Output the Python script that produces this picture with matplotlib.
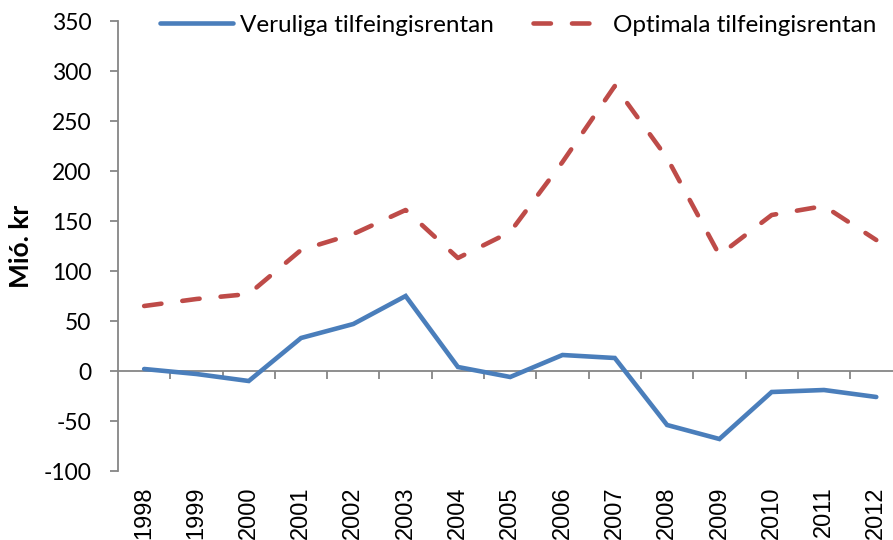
import matplotlib
matplotlib.use("Agg")
import matplotlib.pyplot as plt
import numpy as np

years = ["1998", "1999", "2000", "2001", "2002", "2003", "2004", "2005",
         "2006", "2007", "2008", "2009", "2010", "2011", "2012"]
veruliga = [2, -3, -10, 33, 47, 75, 4, -6, 16, 13, -54, -68, -21, -19, -26]
optimala = [65, 72, 77, 121, 137, 161, 113, 139, 209, 285, 213, 116, 156, 165, 131]
yticks = [-100, -50, 0, 50, 100, 150, 200, 250, 300, 350]

BLUE = "#4A7EBB"
RED = "#BE4B48"
GRAY = "#868686"

fig = plt.figure(figsize=(8.93, 5.4), dpi=100)
ax = fig.add_axes([118/893, 1-471/540, 1-118/893, (471-21)/540])

x = np.arange(len(years))
ax.plot(x, veruliga, color=BLUE, lw=3.3, solid_capstyle="round",
        solid_joinstyle="miter", label="Veruliga tilfeingisrentan")
ax.plot(x, optimala, color=RED, lw=3.3, dashes=(3.8, 4.6), dash_capstyle="round",
        label="Optimala tilfeingisrentan")

ax.set_ylim(-100, 350)
ax.set_xlim(-0.5, 14.32)
ax.set_yticks(yticks)
ax.set_yticklabels([str(v) for v in yticks], family="Lato", fontsize=16.5)

for s in ["top", "right", "bottom"]:
    ax.spines[s].set_visible(False)
ax.spines["left"].set_color(GRAY)
ax.spines["left"].set_linewidth(1.3)
ax.tick_params(axis="y", length=6, width=1.3, color=GRAY, pad=13)

ax.set_xticks(x)
ax.set_xticklabels(years, rotation=90, family="Liberation Sans", fontsize=17)
ax.tick_params(axis="x", length=0, pad=11)

# zero line with category boundary ticks
zero_pos = (0 - (-100)) / 450
sec = ax.secondary_xaxis(zero_pos)
sec.set_xticks(np.arange(len(years)) + 0.5)
sec.set_xticklabels([])
sec.tick_params(axis="x", length=6, width=1.3, color=GRAY, direction="out")
sec.spines["bottom"].set_color(GRAY)
sec.spines["bottom"].set_linewidth(1.3)
for s in ["top", "left", "right"]:
    if s in sec.spines:
        sec.spines[s].set_visible(False)

ax.set_ylabel("Mió. kr", family="Lato", fontweight="bold", fontsize=19, labelpad=8)

fig.legend(loc="center", bbox_to_anchor=(0.5806, 1-25/540), ncol=2, frameon=False,
           prop={"family": "Lato", "size": 17.5}, handlelength=3.0,
           handletextpad=0.3, columnspacing=1.6)

fig.savefig("out.png", dpi=100)
